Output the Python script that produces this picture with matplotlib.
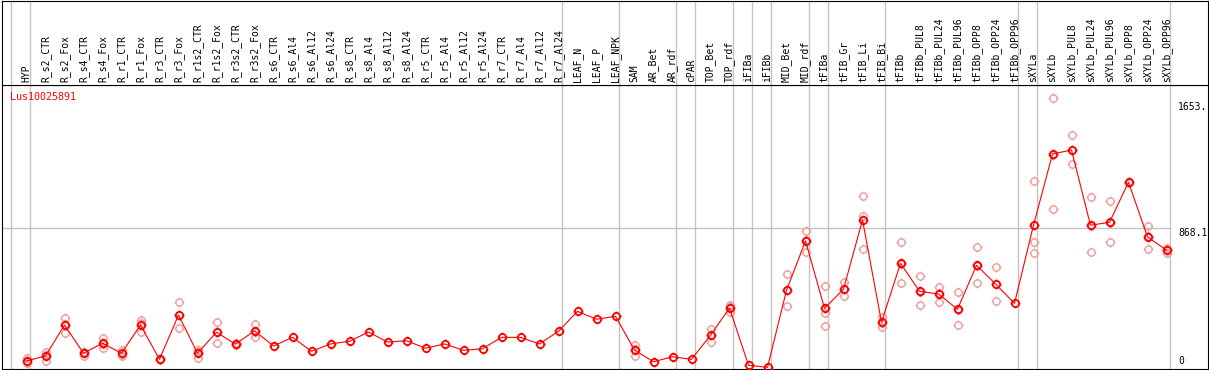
import numpy as np
import matplotlib
matplotlib.use('Agg')
import matplotlib.pyplot as plt
from matplotlib.path import Path

gene = 'Lus10025891'

samples = ['HYP',
           'R_s2_CTR', 'R_s2_Fox', 'R_s4_CTR', 'R_s4_Fox', 'R_r1_CTR', 'R_r1_Fox',
           'R_r3_CTR', 'R_r3_Fox', 'R_r1s2_CTR', 'R_r1s2_Fox', 'R_r3s2_CTR', 'R_r3s2_Fox',
           'R_s6_CTR', 'R_s6_Al4', 'R_s6_Al12', 'R_s6_Al24',
           'R_s8_CTR', 'R_s8_Al4', 'R_s8_Al12', 'R_s8_Al24',
           'R_r5_CTR', 'R_r5_Al4', 'R_r5_Al12', 'R_r5_Al24',
           'R_r7_CTR', 'R_r7_Al4', 'R_r7_Al12', 'R_r7_Al24',
           'LEAF_N', 'LEAF_P', 'LEAF_NPK',
           'SAM', 'AR_Bet', 'AR_rdf', 'cPAR', 'TOP_Bet', 'TOP_rdf',
           'iFIBa', 'iFIBb', 'MID_Bet', 'MID_rdf',
           'tFIBa', 'tFIB_Gr', 'tFIB_Li', 'tFIB_Bi',
           'tFIBb', 'tFIBb_PUL8', 'tFIBb_PUL24', 'tFIBb_PUL96',
           'tFIBb_OPP8', 'tFIBb_OPP24', 'tFIBb_OPP96',
           'sXYLa', 'sXYLb', 'sXYLb_PUL8', 'sXYLb_PUL24', 'sXYLb_PUL96',
           'sXYLb_OPP8', 'sXYLb_OPP24', 'sXYLb_OPP96']

# mean expression per sample
means = [41,
         72, 265, 89, 151, 89, 265,
         51, 327, 89, 220, 145, 229,
         134, 188, 101, 147,
         163, 221, 159, 167,
         120, 147, 107, 117,
         188, 188, 147, 226,
         350, 301, 319,
         109, 36, 67, 51, 201, 371,
         14, 1, 481, 789,
         369, 488, 920, 282,
         650, 475, 458, 363,
         637, 521, 400,
         887, 1331, 1356, 887, 905,
         1155, 814, 731]

# individual replicates (empty where none are visible)
reps = [[57, 26, 40],
        [99, 41, 76], [307, 217, 271], [99, 74, 94], [186, 120, 147], [109, 74, 84], [296, 223, 276],
        [48, 51, 54], [407, 244, 330], [109, 61, 97], [286, 151, 223], [140, 145, 150], [271, 192, 224],
        [], [], [], [],
        [], [], [], [],
        [], [], [], [],
        [], [], [], [],
        [], [], [],
        [140, 72, 115], [], [], [], [240, 161, 202], [390, 344, 379],
        [], [], [581, 382, 480], [851, 723, 793],
        [508, 342, 257], [533, 444, 487], [1068, 945, 737], [317, 254, 275],
        [781, 525, 644], [569, 388, 468], [500, 410, 464], [469, 263, 357],
        [751, 527, 633], [625, 415, 523], [],
        [1161, 781, 712], [1679, 987, 1327], [1448, 1267, 1353], [1061, 718, 882], [1036, 781, 898],
        [1150, 1158, 1157], [882, 739, 821], [747, 712, 734]]

# last sample index of each tissue group (-1 = left edge)
group_ends = [-1, 0, 28, 31, 34, 35, 37, 38, 39, 41, 42, 45, 52, 53, 60]

ref_value = 868.1
top_value = 1653
y_labels = ['1653.', '868.1', '0']

# circle marker with four small ticks
ticks = [Path([(dx, dy), (1.35 * dx, 1.35 * dy)], [Path.MOVETO, Path.LINETO])
         for dx, dy in [(1, 0), (-1, 0), (0, 1), (0, -1)]]
tick_circle = Path.make_compound_path(Path.unit_circle(), *ticks)

W, H = 1209, 370
fig = plt.figure(figsize=(W / 100, H / 100), dpi=100)
ax = fig.add_axes([2 / W, 1 / H, 1206 / W, 284 / H])
hax = fig.add_axes([2 / W, 285 / H, 1206 / W, 84.5 / H])

xlim = ((2 - 26.5) / 19, (1208 - 26.5) / 19)
for a in (ax, hax):
    a.set_xlim(*xlim)
    a.set_xticks([])
    a.set_yticks([])
    for s in a.spines.values():
        s.set_color('black')
        s.set_linewidth(0.8)
    for g in group_ends:
        a.axvline(g + 0.19, color='#c4c4c4', lw=1.0, zorder=0)
ax.set_ylim(-9.35, 1761)
hax.set_ylim(0, 1)

mono = 'DejaVu Sans Mono'

# sample names in the header
for i, name in enumerate(samples):
    hax.text(i, 2.5 / 84.5, name, rotation=90, ha='center', va='bottom',
             fontsize=7, family=mono, color='black')

# reference line
ax.hlines(ref_value, xlim[0], group_ends[-1] + 0.19, color='#c4c4c4', lw=1.0, zorder=0)

x = np.arange(len(samples))
for i, r in enumerate(reps):
    if r:
        ax.plot([x[i]] * len(r), r, ls='none', marker=tick_circle, ms=7.0,
                mfc='none', mec='#f09c9c', mew=1.0, zorder=2)
ax.plot(x, means, color='red', lw=0.8, zorder=3)
ax.plot(x, means, ls='none', marker=tick_circle, ms=7.0, mfc='none',
        mec='red', mew=1.3, zorder=4)

# value labels on the right
lx = group_ends[-1] + 0.6
ax.text(lx, top_value, y_labels[0], ha='left', va='top', fontsize=7, family=mono)
ax.text(lx, ref_value, y_labels[1], ha='left', va='top', fontsize=7, family=mono)
ax.text(lx, 8, y_labels[2], ha='left', va='bottom', fontsize=7, family=mono)

ax.text(8 / 1206, 1 - 12.3 / 284, gene, transform=ax.transAxes, ha='left',
        va='center', fontsize=7.2, family=mono, color='red')

fig.savefig('out.png', dpi=100)
